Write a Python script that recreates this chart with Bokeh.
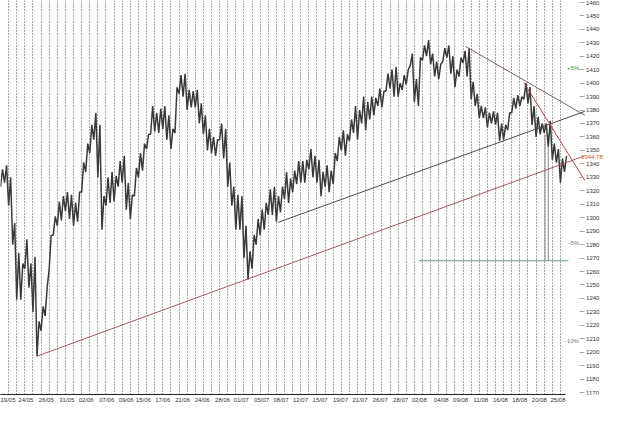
from bokeh.plotting import figure
from bokeh.models import Range1d, FixedTicker, Label
from bokeh.embed import file_html
from bokeh.resources import INLINE

# ---- data ----
# price bars, one every half trading day: highs and lows
bar_high = [1336, 1339, 1330, 1296, 1274, 1266, 1284, 1266, 1271, 1223,
            1234, 1248, 1287, 1301, 1312, 1316, 1319, 1317, 1311, 1319,
            1341, 1355, 1369, 1378, 1369, 1316, 1330, 1334, 1331, 1342,
            1346, 1326, 1317, 1337, 1348, 1355, 1362, 1383, 1378, 1381,
            1383, 1376, 1366, 1397, 1406, 1407, 1395, 1394, 1395, 1385,
            1376, 1366, 1360, 1358, 1370, 1366, 1341, 1323, 1317, 1316,
            1294, 1275, 1287, 1299, 1306, 1311, 1321, 1323, 1316, 1323,
            1334, 1329, 1335, 1342, 1342, 1343, 1351, 1346, 1343, 1334,
            1339, 1335, 1348, 1360, 1365, 1362, 1373, 1383, 1380, 1390,
            1386, 1390, 1389, 1396, 1394, 1407, 1410, 1412, 1400, 1406,
            1410, 1422, 1403, 1419, 1428, 1432, 1422, 1416, 1414, 1426,
            1428, 1420, 1410, 1419, 1424, 1426, 1401, 1392, 1383, 1382,
            1378, 1379, 1378, 1370, 1369, 1378, 1389, 1391, 1390, 1400,
            1397, 1383, 1375, 1370, 1370, 1372, 1355, 1351, 1344, 1346]
bar_low = [1323, 1326, 1309, 1280, 1239, 1239, 1262, 1248, 1230, 1197,
           1216, 1227, 1262, 1287, 1294, 1298, 1305, 1299, 1294, 1297,
           1319, 1334, 1348, 1358, 1330, 1291, 1309, 1311, 1312, 1323,
           1326, 1306, 1299, 1316, 1330, 1335, 1351, 1362, 1364, 1363,
           1366, 1358, 1351, 1363, 1392, 1390, 1380, 1382, 1382, 1370,
           1362, 1350, 1348, 1346, 1358, 1344, 1323, 1309, 1291, 1291,
           1270, 1254, 1262, 1280, 1287, 1291, 1302, 1302, 1297, 1304,
           1314, 1311, 1319, 1325, 1326, 1326, 1336, 1330, 1326, 1316,
           1323, 1319, 1325, 1342, 1350, 1346, 1357, 1363, 1358, 1370,
           1365, 1373, 1376, 1383, 1382, 1394, 1396, 1390, 1390, 1395,
           1399, 1413, 1386, 1383, 1417, 1420, 1414, 1405, 1403, 1416,
           1419, 1407, 1397, 1405, 1415, 1405, 1388, 1383, 1374, 1374,
           1367, 1370, 1369, 1357, 1358, 1365, 1378, 1381, 1383, 1388,
           1385, 1369, 1360, 1362, 1363, 1353, 1343, 1341, 1326, 1334]
last_price = 1344.78

# date tick labels and their positions (trading-day index)
date_labels = ["19/05", "24/05", "26/05", "31/05", "02/06", "07/06", "09/06",
               "15/06", "17/06", "21/06", "24/06", "28/06", "01/07", "05/07",
               "08/07", "12/07", "15/07", "19/07", "21/07", "26/07", "28/07",
               "02/08", "04/08", "09/08", "11/08", "16/08", "18/08", "20/08",
               "25/08"]
date_pos = [0.6, 3.12, 5.64, 8.16, 10.56, 13.09, 15.49, 17.6, 20.0, 22.45,
            24.85, 27.37, 29.65, 32.17, 34.57, 36.97, 39.38, 41.9, 44.3, 46.8,
            49.3, 51.6, 54.3, 56.7, 59.2, 61.6, 64.0, 66.4, 68.7]
price_ticks = list(range(1170, 1461, 10))

# drawn trend lines: start day, start price, end day, end price
tl_x0 = [4.45, 34.2, 57.3, 64.5]
tl_y0 = [1197.0, 1296.5, 1427.3, 1400.3]
tl_x1 = [72.0, 72.0, 72.0, 72.0]
tl_y1 = [1346.0, 1379.0, 1376.1, 1327.8]
tl_col = ["#a05a5a", "#4a4a4a", "#7a6262", "#b04848"]

target_level = 1268.0
target_x = [51.6, 70.0]
drop_x = [67.1, 67.5]
drop_top = [1362.0, 1362.0]

pct_text = ["+5%", "-5%", "-10%"]
pct_level = [1411.0, 1281.0, 1208.0]
pct_col = ["#3c8c3c", "#777777", "#777777"]

# ---- figure ----
SCALE_X = 71.3    # day position of the price scale
XMAX = 74.43      # right end of the drawing area
AXIS_END = 69.6   # end of the date axis line
p = figure(width=604, height=405, output_backend="svg", toolbar_location=None,
           x_range=Range1d(0, XMAX), y_range=Range1d(1168.6, 1461.4),
           y_axis_location="right",
           min_border_left=0, min_border_top=0, min_border_right=0,
           min_border_bottom=0)
p.outline_line_color = None
p.background_fill_color = "white"
p.border_fill_color = "white"

# vertical dotted daily grid
p.xgrid.ticker = FixedTicker(ticks=list(range(0, 70)))
p.xgrid.grid_line_color = "#505050"
p.xgrid.grid_line_dash = "1 2"
p.xgrid.grid_line_width = 1
p.ygrid.visible = False

# x axis
xa = p.xaxis[0]
xa.ticker = FixedTicker(ticks=date_pos)
xa.major_label_overrides = {pos: lab for pos, lab in zip(date_pos, date_labels)}
xa.bounds = (0, AXIS_END)
xa.major_tick_out = 0
xa.major_tick_in = 0
xa.minor_tick_out = 0
xa.minor_tick_in = 0
xa.axis_line_color = "#222222"
xa.major_label_text_font = "Liberation Sans"
xa.major_label_text_font_size = "6px"
xa.major_label_text_color = "#333333"
xa.major_label_standoff = 2

# y axis (price scale), drawn at a fixed position inside the drawing area
ya = p.yaxis[0]
ya.fixed_location = SCALE_X
ya.ticker = FixedTicker(ticks=price_ticks)
ya.axis_line_color = None
ya.major_tick_out = 5
ya.major_tick_in = 0
ya.minor_tick_out = 0
ya.minor_tick_in = 0
ya.major_tick_line_color = "#aaaaaa"
ya.major_label_text_font = "Liberation Sans"
ya.major_label_text_font_size = "6px"
ya.major_label_text_color = "#333333"
ya.major_label_standoff = 2

# target line and drop lines
p.line(x=target_x, y=[target_level, target_level], line_color="#6f9f7f", line_width=1)
p.segment(x0=drop_x, y0=drop_top, x1=drop_x, y1=[target_level] * len(drop_x),
          line_color="#8a8a8a", line_width=1)

# price trace: low -> high -> next low ... (jagged intraday trace)
bar_day = [i * 0.5 for i in range(len(bar_high))]
xs, ys = [], []
for d, h, l in zip(bar_day, bar_high, bar_low):
    xs += [d, d + 0.25]
    ys += [l, h]
p.line(x=xs, y=ys, line_color="#3a3a3a", line_width=1.5)

# trend lines
p.segment(x0=tl_x0, y0=tl_y0, x1=tl_x1, y1=tl_y1, line_color=tl_col, line_width=1)

# percentage labels next to the price scale
for t, lv, c in zip(pct_text, pct_level, pct_col):
    p.add_layout(Label(x=SCALE_X, y=lv, text=t, text_align="right", text_baseline="middle",
                       x_offset=0, text_font="Liberation Sans", text_font_size="6px",
                       text_color=c))
# last price on the scale
p.add_layout(Label(x=SCALE_X, y=last_price, text=f"{last_price:.2f}", text_align="left",
                   text_baseline="middle", x_offset=2, text_font="Liberation Sans",
                   text_font_size="6px", text_color="#c8561e"))

open("out.html", "w").write(file_html(p, INLINE))
